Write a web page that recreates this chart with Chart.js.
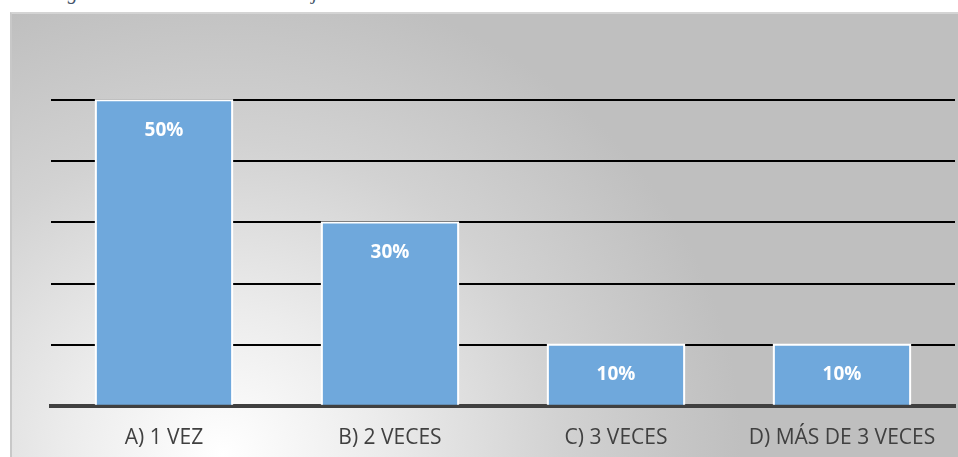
<!DOCTYPE html>
<html>
<head>
  <meta charset="utf-8">
  <title>Frecuencia</title>
  <script src="https://cdn.jsdelivr.net/npm/chart.js"></script>
</head>
<body style="margin:0;background:#fff;overflow:hidden;">
  <div style="position:absolute;left:50px;top:-19px;font:italic 20px 'Liberation Serif',serif;color:#44546a;white-space:nowrap;line-height:22px;">Figura N° 14: Frecuencia de viajes realizados</div>
  <div id="box" style="position:absolute;left:10px;top:12px;width:948px;height:445px;overflow:hidden;border-left:2px solid #c8c8c8;border-top:2px solid #d4d4d4;box-sizing:border-box;background:radial-gradient(ellipse 520px 480px at 210px 440px,#ffffff 0%,#ececec 30%,#d2d2d2 65%,#bfbfbf 100%);">
    <canvas id="chart" width="946" height="449"></canvas>
  </div>

  <script>
    const categories = ["A) 1 VEZ", "B) 2 VECES", "C) 3 VECES", "D) MÁS DE 3 VECES"];
    const values = [50, 30, 10, 10];
    const valueLabels = ["50%", "30%", "10%", "10%"];

    // white bar outlines + value labels on top of the grid
    const overlay = {
      id: "overlay",
      afterDraw(chart) {
        const ctx = chart.ctx;
        const meta = chart.getDatasetMeta(0);
        ctx.save();
        meta.data.forEach((bar, i) => {
          const p = bar.getProps(["x", "y", "base", "width"], true);
          ctx.strokeStyle = "#ffffff";
          ctx.lineWidth = 2;
          ctx.beginPath();
          ctx.moveTo(p.x - p.width / 2, p.base);
          ctx.lineTo(p.x - p.width / 2, p.y);
          ctx.lineTo(p.x + p.width / 2, p.y);
          ctx.lineTo(p.x + p.width / 2, p.base);
          ctx.stroke();
          ctx.fillStyle = "#ffffff";
          ctx.font = "bold 19px 'Open Sans', sans-serif";
          ctx.textAlign = "center";
          ctx.textBaseline = "middle";
          ctx.fillText(valueLabels[i], p.x, p.y + 30);
        });
        ctx.restore();
      }
    };

    const ctx = document.getElementById("chart").getContext("2d");
    new Chart(ctx, {
      type: "bar",
      data: {
        labels: categories,
        datasets: [{
          data: values,
          backgroundColor: "#6fa8dc",
          borderWidth: 0,
          categoryPercentage: 1,
          barPercentage: 0.603
        }]
      },
      options: {
        responsive: false,
        animation: false,
        layout: { padding: { left: 39, right: 3, top: 25, bottom: 0 } },
        plugins: { legend: { display: false }, tooltip: { enabled: false } },
        scales: {
          x: {
            grid: { display: false },
            border: { display: true, color: "#404040", width: 4 },
            ticks: { color: "#404040", font: { family: "'Open Sans', sans-serif", size: 21 }, padding: 12 }
          },
          y: {
            min: 0, max: 60,
            z: 1,
            ticks: { display: false, stepSize: 10 },
            border: { display: false },
            grid: {
              color: (c) => (c.tick.value > 0 && c.tick.value < 60) ? "#000000" : "rgba(0,0,0,0)",
              lineWidth: 2,
              drawTicks: false
            }
          }
        }
      },
      plugins: [overlay]
    });
  </script>
</body>
</html>
